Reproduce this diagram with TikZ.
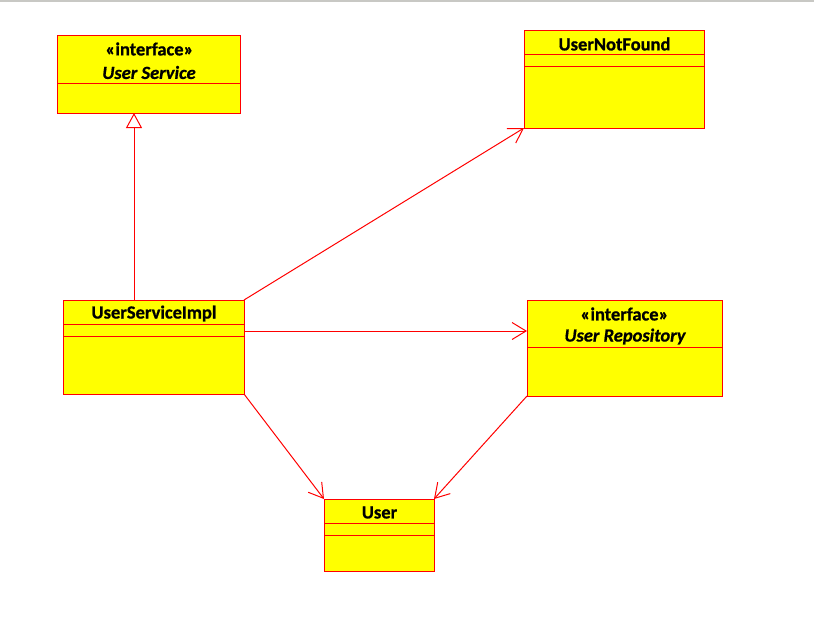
\documentclass[tikz,border=0pt]{standalone}
\usepackage{fontspec}
\setmainfont{Carlito}[BoldFeatures={FakeBold=0.8},BoldItalicFeatures={FakeBold=0.8}]
\usetikzlibrary{arrows.meta}
\definecolor{uyellow}{RGB}{255,255,0}
\definecolor{ured}{RGB}{255,0,0}
\definecolor{ugray}{RGB}{200,200,196}
\tikzset{
  x=1pt, y=-1pt,
  umlbox/.style={draw=ured, fill=uyellow, line width=1pt, inner sep=0pt, outer sep=0pt},
  divline/.style={draw=ured, line width=1pt},
  lbl/.style={inner sep=0pt, font=\fontsize{18.5}{20}\selectfont\bfseries, text=black, anchor=center},
  ilbl/.style={lbl, font=\fontsize{18.5}{20}\selectfont\bfseries\itshape},
  dep/.style={draw=ured, line width=1pt, -{Straight Barb[length=14pt, width=17pt, line width=1pt]}},
  gen/.style={draw=ured, line width=1pt, -{Triangle[open, length=15pt, width=16pt, line width=1pt, fill=white]}},
}
\begin{document}
\begin{tikzpicture}
\useasboundingbox (0,0) rectangle (814,629);
\draw[draw=ugray, line width=1.5pt] (0,0.75) -- (814,0.75);

% boxes
\node[umlbox, minimum width=183pt, minimum height=78pt] (us) at (148.5,74) {};
\node[umlbox, minimum width=180pt, minimum height=98pt] (unf) at (614,79) {};
\node[umlbox, minimum width=181pt, minimum height=94pt] (impl) at (153.5,347) {};
\node[umlbox, minimum width=195pt, minimum height=96pt] (repo) at (624.5,348) {};
\node[umlbox, minimum width=110pt, minimum height=72pt] (user) at (379,535) {};

% dividers
\draw[divline] (57,83) -- (240,83);
\draw[divline] (524,54) -- (704,54);
\draw[divline] (524,66) -- (704,66);
\draw[divline] (63,324) -- (244,324);
\draw[divline] (63,336) -- (244,336);
\draw[divline] (527,347) -- (722,347);
\draw[divline] (324,523) -- (434,523);
\draw[divline] (324,535) -- (434,535);

% labels
\node[lbl] (usst) at (149.5,49) {«interface»};
\node[ilbl] (usn) at (149,72.5) {User Service};
\node[lbl] (unfn) at (614.5,44) {UserNotFound};
\node[lbl] (impln) at (154,313.5) {UserServiceImpl};
\node[lbl] (repost) at (624.5,314) {«interface»};
\node[ilbl] (repon) at (625,336.5) {User Repository};
\node[lbl] (usern) at (379.5,512.5) {User};

% connectors
\coordinate (g1) at (134,300);
\draw[gen] (g1) -- (g1 |- us.south);
\draw[dep] (impl.north east) -- (unf.south west);
\coordinate (h1) at (244,331);
\draw[dep] (h1) -- (h1 -| repo.west);
\draw[dep] (impl.south east) -- (user.north west);
\draw[dep] (repo.south west) -- (user.north east);
\end{tikzpicture}
\end{document}
